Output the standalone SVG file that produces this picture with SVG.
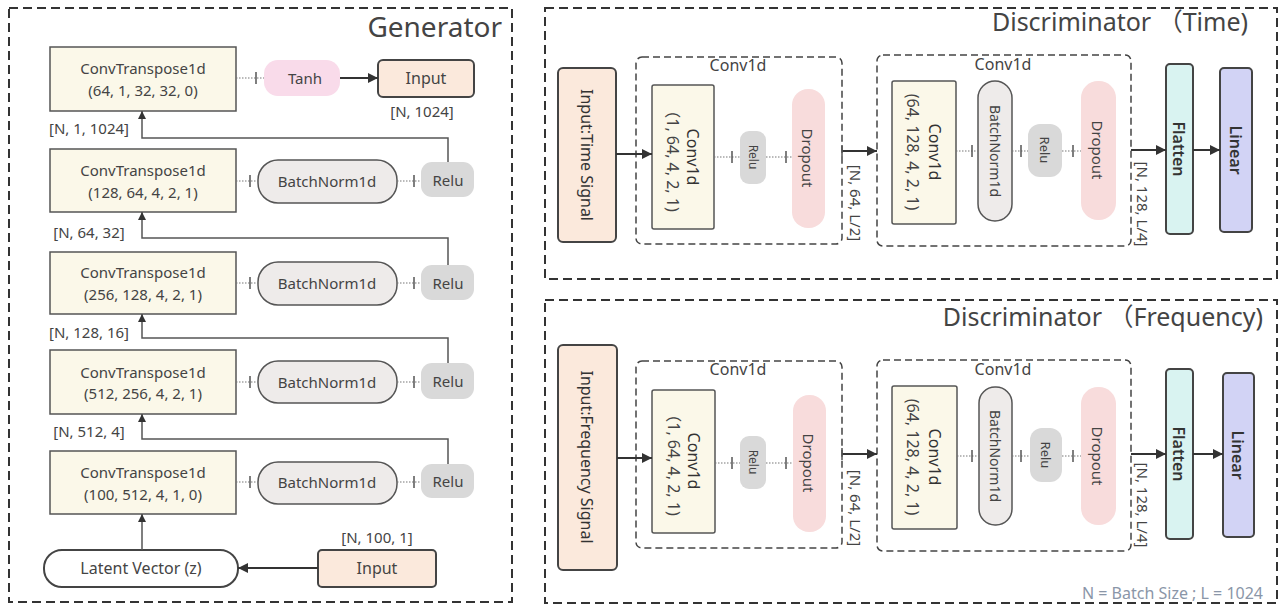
<svg xmlns="http://www.w3.org/2000/svg" width="1282" height="608" viewBox="0 0 1282 608">
<defs>
<marker id="ah" viewBox="0 0 10 10" refX="10" refY="5" markerWidth="10" markerHeight="10" markerUnits="userSpaceOnUse" orient="auto"><path d="M0,0 L10,5 L0,10 z" fill="#333"/></marker>
<marker id="ahs" viewBox="0 0 10 10" refX="10" refY="5" markerWidth="8" markerHeight="10" markerUnits="userSpaceOnUse" orient="auto"><path d="M0,0 L10,5 L0,10 z" fill="#333"/></marker>
<style>
text{font-family:"Noto Sans","Open Sans","Noto Sans CJK SC",sans-serif;fill:#444}
.frame{fill:none;stroke:#333;stroke-width:2;stroke-dasharray:9 5}
.inner{fill:none;stroke:#444;stroke-width:1.5;stroke-dasharray:7 4}
.ct{fill:#fbf8e9;stroke:#555;stroke-width:1.5}
.bn{fill:#eeebea;stroke:#555;stroke-width:1.5}
.relu{fill:#d9d9d9}
.tanh{fill:#f9dbea}
.drop{fill:#f8dcdc}
.inp{fill:#fbe9dc;stroke:#444;stroke-width:2}
.lat{fill:#fff;stroke:#444;stroke-width:2}
.flat{fill:#d9f3f1;stroke:#444;stroke-width:2}
.lin{fill:#d2d3f5;stroke:#444;stroke-width:2}
.dot{stroke:#777;stroke-width:1.2;stroke-dasharray:1.5 1.5;fill:none}
.tick{stroke:#555;stroke-width:1.5}
.arr{stroke:#333;stroke-width:2;fill:none;marker-end:url(#ah)}
.up{stroke:#555;stroke-width:1.5;fill:none;marker-end:url(#ahs)}
.t14{font-size:14px}
.t15{font-size:15px}
.t16{font-size:16px}
.lbl{font-size:15px;fill:#444}
.c{text-anchor:middle;dominant-baseline:central}
.dk{fill:#333}
</style>
</defs>

<!-- frames -->
<g id="generator-frame">
<rect class="frame" x="9" y="8" width="503" height="594"/>
<text x="502" y="37" font-size="28" text-anchor="end" fill="#333">Generator</text>
</g>
<g id="disc-time-frame">
<rect class="frame" x="545" y="8" width="732" height="271"/>
<text x="1248" y="31" font-size="25" text-anchor="end" fill="#333">Discriminator （Time)</text>
</g>
<g id="disc-freq-frame">
<rect class="frame" x="545" y="300" width="732" height="303"/>
<text x="1263" y="326" font-size="25" text-anchor="end" fill="#333">Discriminator （Frequency)</text>
<text x="1263" y="599" font-size="16" text-anchor="end" style="fill:#8a96a8">N = Batch Size ; L = 1024</text>
</g>

<!-- Generator nodes -->
<g id="g-ct1"><rect class="ct" x="50" y="47" width="186" height="64"/><text class="t15 c" x="143" y="68">ConvTranspose1d</text><text class="t15 c" x="143" y="90">(64, 1, 32, 32, 0)</text></g>
<g id="g-tanh"><rect class="tanh" x="264" y="60" width="76" height="36" rx="14"/><text class="t15 c" x="305" y="78">Tanh</text></g>
<g id="g-out"><rect class="inp" x="378" y="60" width="96" height="37" rx="5"/><text class="t16 c" x="426" y="78">Input</text><text class="lbl c" x="422" y="111">[N, 1024]</text></g>

<g id="g-ct2"><rect class="ct" x="50" y="149" width="186" height="63"/><text class="t15 c" x="143" y="170">ConvTranspose1d</text><text class="t15 c" x="143" y="192">(128, 64, 4, 2, 1)</text></g>
<g id="g-bn2"><rect class="bn" x="258" y="160" width="139" height="43" rx="20"/><text class="t15 c" x="327" y="181">BatchNorm1d</text></g>
<g id="g-relu2"><rect class="relu" x="421" y="162" width="53" height="35" rx="11"/><text class="t15 c" x="448" y="180">Relu</text></g>

<g id="g-ct3"><rect class="ct" x="50" y="252" width="186" height="62"/><text class="t15 c" x="143" y="272">ConvTranspose1d</text><text class="t15 c" x="143" y="294">(256, 128, 4, 2, 1)</text></g>
<g id="g-bn3"><rect class="bn" x="258" y="262" width="139" height="43" rx="20"/><text class="t15 c" x="327" y="283">BatchNorm1d</text></g>
<g id="g-relu3"><rect class="relu" x="421" y="265" width="53" height="35" rx="11"/><text class="t15 c" x="448" y="283">Relu</text></g>

<g id="g-ct4"><rect class="ct" x="50" y="350" width="186" height="64"/><text class="t15 c" x="143" y="372">ConvTranspose1d</text><text class="t15 c" x="143" y="393">(512, 256, 4, 2, 1)</text></g>
<g id="g-bn4"><rect class="bn" x="258" y="361" width="139" height="42" rx="20"/><text class="t15 c" x="327" y="382">BatchNorm1d</text></g>
<g id="g-relu4"><rect class="relu" x="421" y="363" width="53" height="36" rx="11"/><text class="t15 c" x="448" y="381">Relu</text></g>

<g id="g-ct5"><rect class="ct" x="50" y="451" width="186" height="63"/><text class="t15 c" x="143" y="472">ConvTranspose1d</text><text class="t15 c" x="143" y="494">(100, 512, 4, 1, 0)</text></g>
<g id="g-bn5"><rect class="bn" x="258" y="462" width="139" height="42" rx="20"/><text class="t15 c" x="327" y="482">BatchNorm1d</text></g>
<g id="g-relu5"><rect class="relu" x="421" y="464" width="53" height="34" rx="11"/><text class="t15 c" x="448" y="481">Relu</text></g>

<g id="g-latent"><rect class="lat" x="44" y="550" width="194" height="37" rx="18"/><text class="t16 c" x="141" y="568">Latent Vector (z)</text></g>
<g id="g-in"><rect class="inp" x="318" y="550" width="118" height="37" rx="4"/><text class="t16 c" x="377" y="568">Input</text><text class="lbl c" x="377" y="537">[N, 100, 1]</text></g>

<!-- Discriminator Time nodes -->
<g id="dt-input"><rect class="inp" x="558" y="68" width="58" height="174" rx="5"/><text class="t16 c dk" transform="translate(587,155) rotate(90)">Input:Time Signal</text></g>
<g id="dt-conv1"><rect class="inner" x="636" y="57" width="206" height="187" rx="6"/><text class="t16 c" x="738" y="65">Conv1d</text>
<rect class="ct" x="652" y="85" width="62" height="144" rx="2"/><text class="t16 c" transform="translate(683,157) rotate(90)"><tspan x="0" y="-10" class="dk">Conv1d</tspan><tspan x="0" y="10">（1, 64, 4, 2, 1)</tspan></text>
<rect class="relu" x="740" y="131" width="26" height="53" rx="9"/><text class="c" font-size="12" transform="translate(753,157) rotate(90)">Relu</text>
<rect class="drop" x="792" y="89" width="33" height="139" rx="16"/><text class="t15 c" transform="translate(808,158) rotate(90)">Dropout</text>
</g>
<g id="dt-conv2"><rect class="inner" x="877" y="55" width="254" height="191" rx="6"/><text class="t16 c" x="1003" y="64">Conv1d</text>
<rect class="ct" x="892" y="81" width="64" height="143" rx="2"/><text class="t16 c" transform="translate(924,152) rotate(90)"><tspan x="0" y="-11" class="dk">Conv1d</tspan><tspan x="0" y="11">(64, 128, 4, 2, 1)</tspan></text>
<rect class="bn" x="978" y="81" width="34" height="140" rx="17"/><text class="c" font-size="14" transform="translate(995,151) rotate(90)">BatchNorm1d</text>
<rect class="relu" x="1028" y="124" width="34" height="53" rx="12"/><text class="c" font-size="13" transform="translate(1045,150) rotate(90)">Relu</text>
<rect class="drop" x="1081" y="81" width="35" height="139" rx="17"/><text class="t15 c" transform="translate(1098,150) rotate(90)">Dropout</text>
</g>
<g id="dt-flatten"><rect class="flat" x="1166" y="64" width="27" height="170" rx="4"/><text class="t16 c dk" font-weight="600" transform="translate(1179,149) rotate(90)">Flatten</text></g>
<g id="dt-linear"><rect class="lin" x="1220" y="68" width="32" height="164" rx="4"/><text class="t16 c dk" font-weight="600" transform="translate(1236,150) rotate(90)">Linear</text></g>

<!-- Discriminator Frequency nodes -->
<g id="df-input"><rect class="inp" x="558" y="345" width="59" height="225" rx="5"/><text class="t16 c dk" transform="translate(587,457) rotate(90)">Input:Frequency Signal</text></g>
<g id="df-conv1"><rect class="inner" x="636" y="361" width="206" height="187" rx="6"/><text class="t16 c" x="738" y="369">Conv1d</text>
<rect class="ct" x="652" y="390" width="63" height="143" rx="2"/><text class="t16 c" transform="translate(684,461) rotate(90)"><tspan x="0" y="-10" class="dk">Conv1d</tspan><tspan x="0" y="10">（1, 64, 4, 2, 1)</tspan></text>
<rect class="relu" x="740" y="436" width="26" height="53" rx="9"/><text class="c" font-size="12" transform="translate(753,462) rotate(90)">Relu</text>
<rect class="drop" x="793" y="395" width="33" height="137" rx="16"/><text class="t15 c" transform="translate(809,463) rotate(90)">Dropout</text>
</g>
<g id="df-conv2"><rect class="inner" x="877" y="360" width="254" height="191" rx="6"/><text class="t16 c" x="1003" y="369">Conv1d</text>
<rect class="ct" x="892" y="386" width="65" height="143" rx="2"/><text class="t16 c" transform="translate(924,457) rotate(90)"><tspan x="0" y="-11" class="dk">Conv1d</tspan><tspan x="0" y="11">(64, 128, 4, 2, 1)</tspan></text>
<rect class="bn" x="979" y="387" width="33" height="138" rx="16"/><text class="c" font-size="14" transform="translate(995,456) rotate(90)">BatchNorm1d</text>
<rect class="relu" x="1030" y="428" width="32" height="54" rx="12"/><text class="c" font-size="13" transform="translate(1046,455) rotate(90)">Relu</text>
<rect class="drop" x="1081" y="387" width="35" height="138" rx="17"/><text class="t15 c" transform="translate(1098,456) rotate(90)">Dropout</text>
</g>
<g id="df-flatten"><rect class="flat" x="1166" y="369" width="27" height="170" rx="4"/><text class="t16 c dk" font-weight="600" transform="translate(1179,454) rotate(90)">Flatten</text></g>
<g id="df-linear"><rect class="lin" x="1223" y="373" width="31" height="164" rx="4"/><text class="t16 c dk" font-weight="600" transform="translate(1238,455) rotate(90)">Linear</text></g>

<!-- connectors -->
<g id="connectors">
<path class="dot" d="M236,78 H264"/><path class="tick" d="M256,72 V84"/>
<path class="dot" d="M236,181 H258"/><path class="tick" d="M250,175 V187"/>
<path class="dot" d="M397,181 H421"/><path class="tick" d="M414,175 V187"/>
<path class="dot" d="M236,283 H258"/><path class="tick" d="M250,277 V289"/>
<path class="dot" d="M397,283 H421"/><path class="tick" d="M414,277 V289"/>
<path class="dot" d="M236,382 H258"/><path class="tick" d="M250,376 V388"/>
<path class="dot" d="M397,382 H421"/><path class="tick" d="M414,376 V388"/>
<path class="dot" d="M236,482 H258"/><path class="tick" d="M250,476 V488"/>
<path class="dot" d="M397,482 H421"/><path class="tick" d="M414,476 V488"/>
<path class="arr" d="M340,78 H378"/>
<path class="up" d="M448,162 V138 H142 V111"/>
<path class="up" d="M448,265 V238 H142 V212"/>
<path class="up" d="M448,363 V338 H142 V314"/>
<path class="up" d="M448,464 V439 H142 V414"/>
<path class="up" d="M142,550 V514"/>
<path class="arr" d="M318,568 H238"/>
<text class="lbl c" x="89" y="128">[N, 1, 1024]</text>
<text class="lbl c" x="89" y="232">[N, 64, 32]</text>
<text class="lbl c" x="89" y="332">[N, 128, 16]</text>
<text class="lbl c" x="89" y="431">[N, 512, 4]</text>

<path class="arr" d="M616,154 H652"/>
<path class="dot" d="M714,157 H740"/><path class="tick" d="M732,151 V163"/>
<path class="dot" d="M766,157 H792"/><path class="tick" d="M786,151 V163"/>
<path class="arr" d="M842,151 H877"/><path class="tick" d="M842,145 V157"/>
<text class="lbl c" transform="translate(856,203) rotate(90)">[N, 64, L/2]</text>
<path class="dot" d="M956,151 H978"/><path class="tick" d="M972,145 V157"/>
<path class="dot" d="M1012,151 H1028"/><path class="tick" d="M1021,145 V157"/>
<path class="dot" d="M1062,151 H1081"/><path class="tick" d="M1073,145 V157"/>
<path class="arr" d="M1131,150 H1166"/>
<text class="lbl c" transform="translate(1143,204) rotate(90)">[N, 128, L/4]</text>
<path class="arr" d="M1193,150 H1220"/>

<path class="arr" d="M617,458 H652"/>
<path class="dot" d="M715,463 H740"/><path class="tick" d="M732,457 V469"/>
<path class="dot" d="M766,463 H793"/><path class="tick" d="M786,457 V469"/>
<path class="arr" d="M842,454 H877"/><path class="tick" d="M842,448 V460"/>
<text class="lbl c" transform="translate(856,508) rotate(90)">[N, 64, L/2]</text>
<path class="dot" d="M957,456 H979"/><path class="tick" d="M972,450 V462"/>
<path class="dot" d="M1012,456 H1030"/><path class="tick" d="M1021,450 V462"/>
<path class="dot" d="M1062,456 H1081"/><path class="tick" d="M1073,450 V462"/>
<path class="arr" d="M1131,454 H1166"/>
<text class="lbl c" transform="translate(1143,505) rotate(90)">[N, 128, L/4]</text>
<path class="arr" d="M1193,454 H1223"/>
</g>
</svg>
